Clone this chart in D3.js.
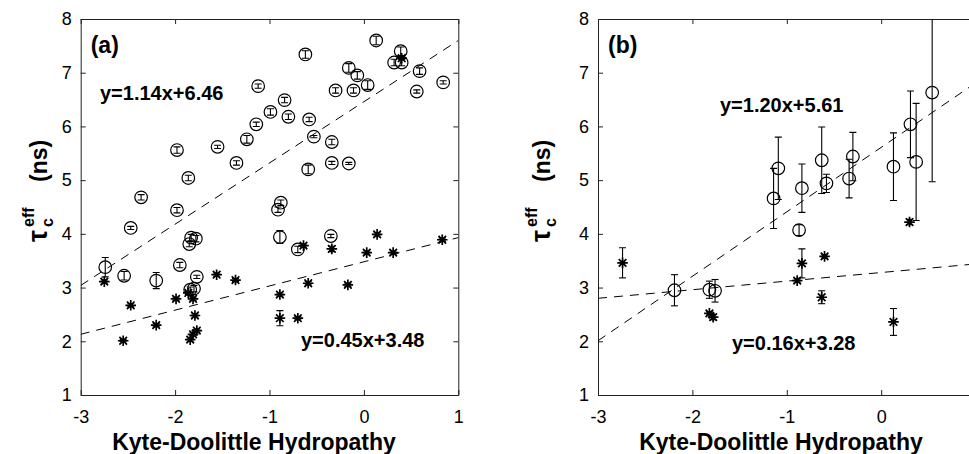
<!DOCTYPE html>
<html>
<head>
<meta charset="utf-8">
<script src="https://cdn.jsdelivr.net/npm/d3@7"></script>
<style>
  body { margin: 0; background: #fff; }
  svg { font-family: "Liberation Sans", Arial, Helvetica, sans-serif; }
</style>
</head>
<body>
<svg id="chart" width="969" height="454"></svg>
<script>
// panel (a) - circles (upper series) with small error bars
const hydroA_circ = [0.13, -0.62, 0.39, 0.32, 0.40, -0.16, -0.07, 0.04, 0.59, 0.84, 0.56, -0.30, -0.11, -1.12, -0.84, -0.99, -0.80, -0.58, -1.14, -0.53, -1.24, -0.34, -1.55, -1.98, -1.35, -0.34, -0.16, -0.59, -1.86, -2.36, -1.98, -0.88, -0.91, -2.47, -1.83, -1.78, -1.85, -0.89, -0.70, -0.35, -1.95, -1.77, -2.74, -2.54, -2.20, -1.80, -1.84];
const tauA_circ = [7.60, 7.34, 7.40, 7.19, 7.19, 7.09, 6.95, 6.77, 7.03, 6.82, 6.65, 6.67, 6.67, 6.75, 6.49, 6.27, 6.18, 6.13, 6.04, 5.81, 5.76, 5.71, 5.62, 5.56, 5.32, 5.32, 5.31, 5.20, 5.04, 4.68, 4.44, 4.58, 4.45, 4.11, 3.93, 3.91, 3.81, 3.94, 3.71, 3.96, 3.42, 3.20, 3.38, 3.22, 3.13, 2.98, 2.96];
const errA_circ = [0.08, 0.07, 0.08, 0.06, 0.06, 0.08, 0.07, 0.08, 0.06, 0.03, 0.03, 0.05, 0.05, 0.04, 0.05, 0.06, 0.05, 0.04, 0.04, 0.02, 0.07, 0.05, 0.03, 0.06, 0.04, 0.03, 0.02, 0.08, 0.05, 0.05, 0.05, 0.05, 0.05, 0.03, 0.06, 0.06, 0.05, 0.12, 0.06, 0.03, 0.05, 0.03, 0.18, 0.08, 0.15, 0.06, 0.05];

// panel (a) - asterisks (lower series)
const hydroA_star = [-2.75, -2.47, -2.55, -2.20, -1.99, -1.86, -1.81, -1.79, -1.77, -1.81, -1.84, -1.56, -1.36, -0.89, -0.89, -0.70, -0.64, -0.59, -0.34, -0.17, 0.03, 0.14, 0.31, 0.83, 0.40];
const tauA_star = [3.11, 2.67, 2.01, 2.30, 2.79, 2.90, 2.79, 2.48, 2.20, 2.13, 2.03, 3.24, 3.14, 2.87, 2.43, 2.43, 3.78, 3.08, 3.72, 3.05, 3.65, 3.99, 3.65, 3.89, 7.27];
const errA_star = [0.03, 0.03, 0.02, 0.03, 0.03, 0.03, 0.03, 0.03, 0.03, 0.03, 0.03, 0.03, 0.03, 0.03, 0.14, 0.03, 0.03, 0.03, 0.05, 0.03, 0.03, 0.03, 0.03, 0.03, 0.03];

// panel (b)
const hydroB_circ = [-1.14, -1.09, -0.84, -0.63, -0.58, -0.34, -0.30, 0.13, 0.31, 0.37, 0.54, -0.87, -2.19, -1.82, -1.76];
const tauB_circ = [4.66, 5.22, 4.85, 5.37, 4.94, 5.03, 5.44, 5.25, 6.04, 5.34, 6.63, 4.07, 2.95, 2.96, 2.94];
const errB_circ = [0.56, 0.58, 0.45, 0.62, 0.17, 0.36, 0.45, 0.63, 0.62, 1.09, 1.66, 0.10, 0.29, 0.16, 0.21];

const hydroB_star = [-2.74, -1.82, -1.78, -0.89, -0.84, -0.60, -0.63, 0.13, 0.30];
const tauB_star = [3.46, 2.52, 2.45, 3.13, 3.45, 3.58, 2.82, 2.36, 4.22];
const errB_star = [0.28, 0.03, 0.05, 0.03, 0.27, 0.03, 0.12, 0.25, 0.05];

// linear fits: [circles, asterisks]
const fitSlopeA = [1.14, 0.45];
const fitInterceptA = [6.46, 3.48];
const fitLabelA = ["y=1.14x+6.46", "y=0.45x+3.48"];
const fitSlopeB = [1.20, 0.16];
const fitInterceptB = [5.61, 3.28];
const fitLabelB = ["y=1.20x+5.61", "y=0.16x+3.28"];

const xTicks = [-3, -2, -1, 0, 1];
const yTicks = [1, 2, 3, 4, 5, 6, 7, 8];

const svg = d3.select("#chart");
const W = 969, TOP = 19, BOTTOM = 395, PW = 377.6;
const starPath = "M0,-5.3V5.3M-5.3,0H5.3M-3.8,-3.8L3.8,3.8M-3.8,3.8L3.8,-3.8";

const zip = (xs, ys, es) => xs.map((x, i) => ({ x: x, y: ys[i], e: es[i] }));

function drawPanel(p) {
	const x = d3.scaleLinear().domain([-3, 1]).range([p.left, p.left + PW]);
	const y = d3.scaleLinear().domain([1, 8]).range([BOTTOM, TOP]);
	const g = svg.append("g").attr("class", "panel-" + p.id);

	g.append("clipPath").attr("id", "clip-" + p.id)
		.append("rect")
		.attr("x", p.left).attr("y", TOP)
		.attr("width", PW).attr("height", BOTTOM - TOP);

	// axes (MATLAB-ish box with inward ticks)
	const styleAxis = (a) => {
		a.attr("font-family", null);
		a.selectAll("path.domain").attr("stroke", "#222").attr("stroke-width", 1);
		a.selectAll(".tick line").attr("stroke", "#222");
		a.selectAll("text").attr("fill", "#000").attr("font-size", 18);
	};
	// labels past the window edge are not shown in the figure
	const xLabelled = xTicks.filter((t) => x(t) < W - 4);
	const fmt = (d) => String(d);
	g.append("g").attr("transform", `translate(0,${BOTTOM})`)
		.call(d3.axisBottom(x).tickValues(xTicks).tickFormat((d) => (xLabelled.includes(d) ? fmt(d) : "")).tickSizeInner(-5).tickSizeOuter(0).tickPadding(15))
		.call(styleAxis);
	g.append("g").attr("transform", `translate(0,${TOP})`)
		.call(d3.axisTop(x).tickValues(xTicks).tickFormat("").tickSizeInner(-5).tickSizeOuter(0))
		.call(styleAxis);
	g.append("g").attr("transform", `translate(${p.left},0)`)
		.call(d3.axisLeft(y).tickValues(yTicks).tickFormat(fmt).tickSizeInner(-5).tickSizeOuter(0).tickPadding(9))
		.call(styleAxis);
	g.append("g").attr("transform", `translate(${p.left + PW},0)`)
		.call(d3.axisRight(y).tickValues(yTicks).tickFormat("").tickSizeInner(-5).tickSizeOuter(0))
		.call(styleAxis);

	const plot = g.append("g").attr("clip-path", `url(#clip-${p.id})`);

	// dashed fit lines
	p.slope.forEach((m, i) => {
		plot.append("line")
			.attr("x1", x(-3)).attr("y1", y(m * -3 + p.intercept[i]))
			.attr("x2", x(1)).attr("y2", y(m * 1 + p.intercept[i]))
			.attr("stroke", "#000").attr("stroke-width", 1)
			.attr("stroke-dasharray", "9,7");
	});

	const allPts = p.circles.concat(p.stars);
	const eb = plot.selectAll(".eb").data(allPts).join("g").attr("class", "eb")
		.attr("stroke", "#000").attr("stroke-width", 1.1);
	eb.append("line")
		.attr("x1", (d) => x(d.x)).attr("x2", (d) => x(d.x))
		.attr("y1", (d) => y(d.y - d.e)).attr("y2", (d) => y(d.y + d.e));
	[-1, 1].forEach((s) => {
		eb.append("line")
			.attr("x1", (d) => x(d.x) - 3.5).attr("x2", (d) => x(d.x) + 3.5)
			.attr("y1", (d) => y(d.y + s * d.e)).attr("y2", (d) => y(d.y + s * d.e));
	});

	plot.selectAll(".circ").data(p.circles).join("circle").attr("class", "circ")
		.attr("cx", (d) => x(d.x)).attr("cy", (d) => y(d.y)).attr("r", 6.3)
		.attr("fill", "none").attr("stroke", "#000").attr("stroke-width", 1.2);

	plot.selectAll(".star").data(p.stars).join("path").attr("class", "star")
		.attr("d", starPath)
		.attr("transform", (d) => `translate(${x(d.x)},${y(d.y)})`)
		.attr("fill", "none").attr("stroke", "#000").attr("stroke-width", 1.7);

	// texts
	g.append("text").attr("x", p.left + 10).attr("y", 53)
		.attr("font-size", 23).attr("font-weight", "bold").text(p.tag);
	p.eqPos.forEach((pos, i) => {
		g.append("text").attr("x", pos[0]).attr("y", pos[1])
			.attr("font-size", 20).attr("font-weight", "bold").text(p.eqLabel[i]);
	});
	g.append("text").attr("x", p.xLabelX).attr("y", 450)
		.attr("text-anchor", "middle").attr("font-size", 23).attr("font-weight", "bold")
		.text("Kyte-Doolittle Hydropathy");

	const yl = g.append("g").attr("transform", `translate(${p.yLabelX},242) rotate(-90)`)
		.attr("font-weight", "bold");
	yl.append("text").attr("x", 0).attr("y", 0).attr("font-size", 27).text("τ");
	yl.append("text").attr("x", 15).attr("y", -13).attr("font-size", 16).text("eff");
	yl.append("text").attr("x", 15).attr("y", 6).attr("font-size", 16).text("c");
	yl.append("text").attr("x", 60).attr("y", 0).attr("font-size", 23).text("(ns)");
}

drawPanel({
	id: "a", left: 80.7, tag: "(a)",
	circles: zip(hydroA_circ, tauA_circ, errA_circ),
	stars: zip(hydroA_star, tauA_star, errA_star),
	slope: fitSlopeA, intercept: fitInterceptA, eqLabel: fitLabelA,
	eqPos: [[100, 100], [301, 347]],
	xLabelX: 254, yLabelX: 47,
});
drawPanel({
	id: "b", left: 598, tag: "(b)",
	circles: zip(hydroB_circ, tauB_circ, errB_circ),
	stars: zip(hydroB_star, tauB_star, errB_star),
	slope: fitSlopeB, intercept: fitInterceptB, eqLabel: fitLabelB,
	eqPos: [[720, 112], [732, 350]],
	xLabelX: 781, yLabelX: 550,
});
</script>
</body>
</html>
